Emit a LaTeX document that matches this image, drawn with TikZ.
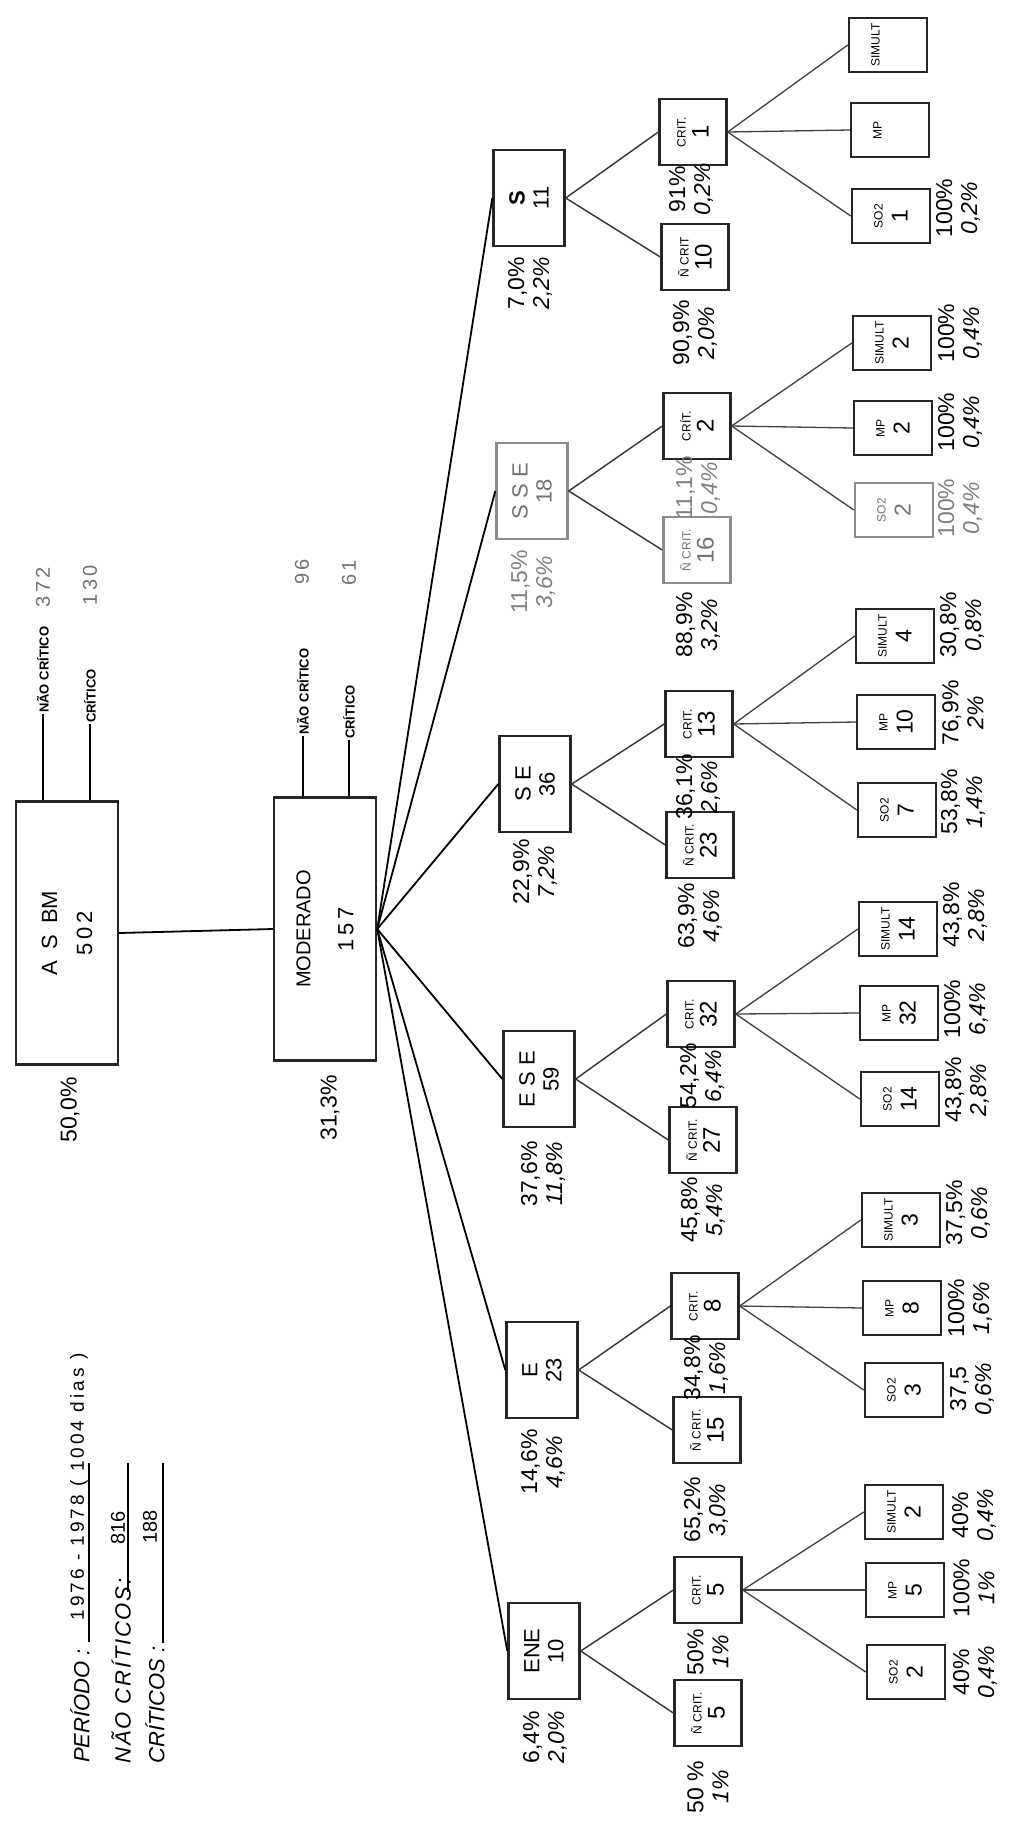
\documentclass[tikz,border=0pt]{standalone}
\usepackage{fontspec}
\setmainfont{Liberation Sans}
\newfontfamily\spacedfont[LetterSpace=16]{Liberation Sans}
\newfontfamily\spacedit[LetterSpace=8]{Liberation Sans}
\newcommand{\fsz}[2]{\fontsize{#1}{#2}\selectfont}
\newcommand{\sm}[1]{{\fsz{12}{13}#1}}
\begin{document}
\begin{tikzpicture}[x=1pt,y=-1pt,
  box/.style={draw=black!85, line width=2.4pt, rotate=90, inner sep=0pt, align=center},
  bx/.style n args={2}{box, minimum width=#2, minimum height=#1},
  l1/.style={bx={102}{263}, font=\fsz{22}{35}},
  l2/.style={bx={71}{96}, font=\fsz{22}{24}},
  l3/.style={bx={67}{66}, font=\fsz{24}{23}},
  lf/.style={bx={78}{54}, font=\fsz{23}{25}},
  faint/.style={draw=black!45, text=black!55},
  lbl/.style={rotate=90, align=center, inner sep=0pt, font=\fsz{23}{25}},
  ann/.style={rotate=90, inner sep=1pt, anchor=west, font=\bfseries\fsz{13}{13}},
  annum/.style={rotate=90, inner sep=0pt, text=black!55, font=\fsz{20}{20}},
  leg/.style={rotate=90, inner sep=0pt, font=\itshape\fsz{22}{22}},
  legnum/.style={rotate=90, inner sep=0pt, font=\fsz{20}{20}},
  fan/.style={line width=1.8pt, black},
  c2/.style={line width=1.4pt, black!80},
  c3/.style={line width=1.3pt, black!75},
  uline/.style={line width=2pt, black}
]
\useasboundingbox (0,0) rectangle (1018,1842);
\fill[white] (0,0) rectangle (1018,1842);

% ---------- legend ----------
\node[leg] (lper) at (80,1706) {PERÍODO :};
\node[legnum, font=\spacedfont\fsz{19}{19}] (lperv) at (79,1487) {1976 - 1978 ( 1004 dias )};
\coordinate (u1a) at (89,1463); \coordinate (u1b) at (89,1642);
\draw[uline] (u1a) -- (u1b);
\node[leg, font=\spacedit\itshape\fsz{22}{22}] (lnc) at (121,1671) {NÃO CRÍTICOS:};
\node[legnum] (lncv) at (118,1528) {816};
\coordinate (u2a) at (128,1463); \coordinate (u2b) at (128,1592);
\draw[uline] (u2a) -- (u2b);
\node[leg] (lc) at (155,1705) {CRÍTICOS :};
\node[legnum] (lcv) at (150,1527) {188};
\coordinate (u3a) at (163,1463); \coordinate (u3b) at (163,1643);
\draw[uline] (u3a) -- (u3b);

% ---------- level 1 ----------
\node[l1] (asbm) at (67,933) {A\enspace S\enspace BM\\5\,0\,2};
\node[l1, font=\fsz{20}{43}] (mod) at (325,929) {MODERADO\\{\fsz{22}{43}1\,5\,7}};
\node[lbl] (lasbm) at (70,1110) {50,0\%};
\node[lbl] (lmod) at (330,1108) {31,3\%};

\coordinate (an1) at (43,714);
\coordinate (an2) at (90,724);
\coordinate (an3) at (303,736);
\coordinate (an4) at (349,740);
\draw[line width=1.6pt] (an1) -- (an1 |- asbm.east);
\draw[line width=1.6pt] (an2) -- (an2 |- asbm.east);
\draw[line width=1.6pt] (an3) -- (an3 |- mod.east);
\draw[line width=1.6pt] (an4) -- (an4 |- mod.east);
\node[ann] (tan1) at (an1) {NÃO CRÍTICO};
\node[ann] (tan2) at (an2) {CRÍTICO};
\node[ann] (tan3) at (an3) {NÃO CRÍTICO};
\node[ann] (tan4) at (an4) {CRÍTICO};
\node[annum] (nan1) at (43,587) {3\,7\,2};
\node[annum] (nan2) at (90,585) {1\,3\,0};
\node[annum] (nan3) at (302,572) {9\,6};
\node[annum] (nan4) at (349,573) {6\,1};

% ---------- level 2 ----------
\node[l2] (ene) at (544,1651) {ENE\\10};
\node[l2] (e) at (542,1370) {E\\23};
\node[l2] (ese) at (539,1079) {E S E\\59};
\node[l2] (se) at (535,784) {S E\\36};
\node[l2,faint] (sse) at (532,491) {S S E\\18};
\node[l2] (s) at (529,198) {\textbf{S}\\11};

\node[lbl] (lene) at (545,1737) {6,4\%\\\textit{2,0\%}};
\node[lbl] (le) at (543,1462) {14,6\%\\\textit{4,6\%}};
\node[lbl] (lese) at (543,1174) {37,6\%\\\textit{11,8\%}};
\node[lbl] (lse) at (535,872) {22,9\%\\\textit{7,2\%}};
\node[lbl,text=black!50] (lsse) at (533,582) {11,5\%\\\textit{3,6\%}};
\node[lbl] (ls) at (530,283) {7,0\%\\\textit{2,2\%}};

% ---------- level 3 ----------
\node[l3] (enen) at (708,1713) {\sm{Ñ CRIT.}\\5};
\node[l3] (enec) at (708,1590) {\sm{CRIT.}\\5};
\node[l3] (en) at (707,1430) {\sm{Ñ CRIT.}\\15};
\node[l3] (ec) at (705,1306) {\sm{CRIT.}\\8};
\node[l3] (esen) at (703,1140) {\sm{Ñ CRIT.}\\27};
\node[l3] (esec) at (701,1014) {\sm{CRIT.}\\32};
\node[l3] (sen) at (700,845) {\sm{Ñ CRIT.}\\23};
\node[l3] (sec) at (699,724) {\sm{CRIT.}\\13};
\node[l3,faint] (ssen) at (697,550) {\sm{Ñ CRIT.}\\16};
\node[l3] (ssec) at (697,426) {\sm{CRÍT.}\\2};
\node[l3] (sn) at (695,257) {\sm{Ñ CRIT}\\10};
\node[l3] (sc) at (693,132) {\sm{CRIT.}\\1};

\node[lbl] (lenen) at (708,1787) {50 \%\\\textit{1\%}};
\node[lbl] (lenec) at (708,1652) {50\%\\\textit{1\%}};
\node[lbl] (len) at (706,1510) {65,2\%\\\textit{3,0\%}};
\node[lbl] (lec) at (706,1368) {34,8\%\\\textit{1,6\%}};
\node[lbl] (lesen) at (703,1210) {45,8\%\\\textit{5,4\%}};
\node[lbl] (lesec) at (702,1076) {54,2\%\\\textit{6,4\%}};
\node[lbl] (lsen) at (700,916) {63,9\%\\\textit{4,6\%}};
\node[lbl] (lsec) at (698,787) {36,1\%\\\textit{2,6\%}};
\node[lbl] (lssen) at (698,625) {88,9\%\\\textit{3,2\%}};
\node[lbl,text=black!50] (lssec) at (698,488) {11,1\%\\\textit{0,4\%}};
\node[lbl] (lsn) at (695,333) {90,9\%\\\textit{2,0\%}};
\node[lbl] (lsc) at (691,189) {91\%\\\textit{0,2\%}};

% ---------- leaves ----------
\node[lf] (ene1) at (906,1672) {\sm{SO2}\\2};
\node[lf] (ene2) at (905,1590) {\sm{MP}\\5};
\node[lf] (ene3) at (904,1512) {\sm{SIMULT}\\2};
\node[lf] (e1) at (904,1390) {\sm{SO2}\\3};
\node[lf] (e2) at (902,1308) {\sm{MP}\\8};
\node[lf] (e3) at (901,1220) {\sm{SIMULT}\\3};
\node[lf] (ese1) at (900,1099) {\sm{SO2}\\14};
\node[lf] (ese2) at (899,1013) {\sm{MP}\\32};
\node[lf] (ese3) at (898,929) {\sm{SIMULT}\\14};
\node[lf] (se1) at (897,810) {\sm{SO2}\\7};
\node[lf] (se2) at (896,722) {\sm{MP}\\10};
\node[lf] (se3) at (895,636) {\sm{SIMULT}\\4};
\node[lf,faint] (sse1) at (894,510) {\sm{SO2}\\2};
\node[lf] (sse2) at (893,428) {\sm{MP}\\2};
\node[lf] (sse3) at (892,343) {\sm{SIMULT}\\2};
\node[lf] (s1) at (891,216) {\sm{SO2}\\1};
\node[lf] (s2) at (890,130) {\sm{MP}\\\phantom{0}};
\node[lf] (s3) at (888,45) {\sm{SIMULT}\\\phantom{0}};

\node[lbl] (lene1) at (975,1672) {40\%\\\textit{0,4\%}};
\node[lbl] (lene2) at (974,1588) {100\%\\\textit{1\%}};
\node[lbl] (lene3) at (974,1515) {40\%\\\textit{0,4\%}};
\node[lbl] (le1) at (972,1389) {37,5\\\textit{0,6\%}};
\node[lbl] (le2) at (970,1308) {100\%\\\textit{1,6\%}};
\node[lbl] (le3) at (968,1213) {37,5\%\\\textit{0,6\%}};
\node[lbl] (lese1) at (967,1090) {43,8\%\\\textit{2,8\%}};
\node[lbl] (lese2) at (966,1009) {100\%\\\textit{6,4\%}};
\node[lbl] (lese3) at (965,915) {43,8\%\\\textit{2,8\%}};
\node[lbl] (lse1) at (963,802) {53,8\%\\\textit{1,4\%}};
\node[lbl] (lse2) at (963,713) {76,9\%\\\textit{2\%}};
\node[lbl] (lse3) at (962,625) {30,8\%\\\textit{0,8\%}};
\node[lbl,text=black!50] (lsse1) at (960,508) {100\%\\\textit{0,4\%}};
\node[lbl] (lsse2) at (960,422) {100\%\\\textit{0,4\%}};
\node[lbl] (lsse3) at (960,333) {100\%\\\textit{0,4\%}};
\node[lbl] (ls1) at (958,208) {100\%\\\textit{0,2\%}};

% ---------- connectors ----------
\draw[fan] (asbm.south) -- (mod.north);
\foreach \n in {ene,e,ese,se,sse,s} \draw[fan] (mod.south) -- (\n.north);
\foreach \p/\a/\b in {ene/enen/enec, e/en/ec, ese/esen/esec, se/sen/sec, sse/ssen/ssec, s/sn/sc}{
  \draw[c2] (\p.south) -- (\a.north);
  \draw[c2] (\p.south) -- (\b.north);
}
\foreach \c/\k in {enec/ene, ec/e, esec/ese, sec/se, ssec/sse, sc/s}{
  \draw[c3] (\c.south) -- (\k1.north);
  \draw[c3] (\c.south) -- (\k2.north);
  \draw[c3] (\c.south) -- (\k3.north);
}
\end{tikzpicture}
\end{document}
